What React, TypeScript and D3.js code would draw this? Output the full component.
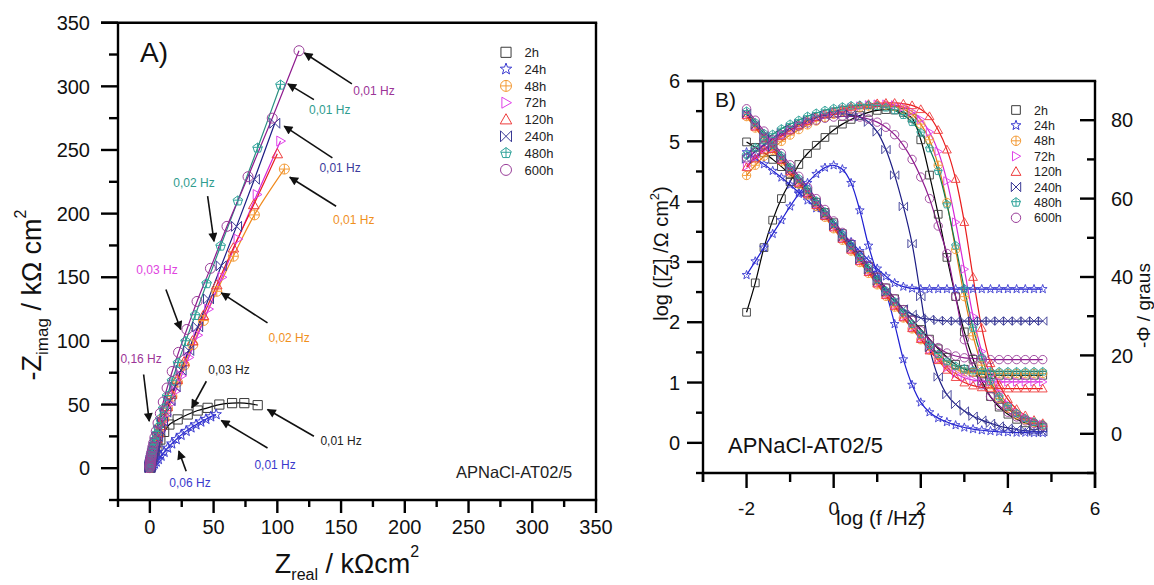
import React from "react";
import * as d3 from "d3";

// ---------------- DATA ----------------
const seriesNames = ["2h", "24h", "48h", "72h", "120h", "240h", "480h", "600h"];

// Nyquist (Zreal, -Zimag) in kOhm cm2, from 0.01 Hz towards high frequency
const nyq2h = [[84.6,49.5],[74.1,51.1],[64.5,51.1],[54.5,50.0],[45.3,47.4],[37.5,45.3],[29.7,42.2],[21.8,38.3],[15.3,34.3],[11.2,28.5],[8.2,22.5],[5.9,17],[4.1,12.5],[2.7,8.8],[1.7,5.8],[1.0,3.6],[0.5,2.0],[0.2,0.9],[0.05,0.3]];
const nyq24h = [[52,42.2],[47.8,40.5],[44,38.5],[40,36.4],[36.2,34.2],[32.3,31.8],[28.5,29.1],[24.5,26],[20.7,22.6],[17.2,19.2],[14,15.9],[11.2,12.6],[8.8,9.6],[6.7,7],[5,5],[3.6,3.4],[2.5,2.2],[1.6,1.3],[0.9,0.6],[0.4,0.2]];
const nyq48h = [[105.5,235],[82,199],[65.5,166.5],[52.5,139],[42,116],[33.7,97],[27,81],[21.6,67.6],[17.3,56.4],[13.8,47],[11,39.2],[8.8,32.6],[7,27.1],[5.6,22.5],[4.4,18.7],[3.5,15.5],[2.8,12.9],[2.2,10.7],[1.7,8.8],[1.3,7.3],[1,6],[0.75,4.9],[0.55,3.9],[0.4,3],[0.28,2.3],[0.18,1.6],[0.1,1],[0.05,0.4]];
const nyq72h = [[102.5,257],[84,215],[69,180],[56.5,150],[46,125],[37.5,104.5],[30.5,87],[24.8,72.5],[20.1,60.5],[16.2,50.5],[13,42],[10.4,35],[8.3,29.1],[6.6,24.2],[5.2,20.1],[4.1,16.7],[3.2,13.9],[2.5,11.5],[1.9,9.5],[1.5,7.9],[1.1,6.5],[0.85,5.3],[0.6,4.3],[0.45,3.4],[0.3,2.6],[0.2,1.8],[0.1,1.1],[0.05,0.5]];
const nyq120h = [[100,247],[81.5,207],[65.5,173],[52.5,144],[42,120],[33.5,100],[26.8,83.5],[21.4,69.6],[17.1,58],[13.6,48.3],[10.8,40.2],[8.6,33.5],[6.8,27.9],[5.4,23.2],[4.3,19.3],[3.4,16],[2.7,13.3],[2.1,11],[1.6,9.1],[1.25,7.5],[0.95,6.2],[0.7,5.1],[0.5,4.1],[0.35,3.2],[0.25,2.4],[0.15,1.7],[0.08,1],[0.04,0.4]];
const nyq240h = [[98,271],[82,227],[68,190],[56,159],[46,133],[37.5,111],[30.5,92.5],[24.5,77],[19.8,64],[15.8,53],[12.5,44],[9.9,36.5],[7.8,30],[6.1,24.8],[4.7,20.4],[3.6,16.8],[2.8,13.8],[2.1,11.3],[1.6,9.2],[1.2,7.5],[0.9,6.1],[0.65,4.9],[0.45,3.9],[0.3,3],[0.2,2.2],[0.12,1.5],[0.08,0.9],[0.05,0.4]];
const nyq480h = [[102.5,301],[84.5,251.5],[69,210],[55.5,174.5],[44.5,145],[35.5,120],[28,99.5],[22,82.5],[17.3,68.5],[13.5,56.5],[10.5,46.8],[8.2,38.7],[6.4,32],[5,26.5],[3.9,21.9],[3,18.1],[2.3,15],[1.8,12.4],[1.4,10.2],[1.1,8.4],[0.8,6.9],[0.6,5.6],[0.45,4.5],[0.3,3.5],[0.2,2.6],[0.1,1.7],[0.05,0.9],[0,0.3]];
const nyq600h = [[117,328],[96,275],[77,229],[60.5,190],[47.5,157],[37,131],[29,109],[22.5,91],[17.5,76],[13.5,63],[10.5,52],[8.2,43],[6.4,35.5],[5,29],[3.9,24],[3,19.8],[2.3,16.3],[1.8,13.4],[1.4,11],[1.1,9],[0.8,7.3],[0.6,5.9],[0.4,4.7],[0.3,3.6],[0.2,2.6],[0.1,1.5],[0,0.5]];

// Bode: log(f/Hz)
const logF = [-2.0,-1.8,-1.6,-1.4,-1.2,-1.0,-0.8,-0.6,-0.4,-0.2,0.0,0.2,0.4,0.6,0.8,1.0,1.2,1.4,1.6,1.8,2.0,2.2,2.4,2.6,2.8,3.0,3.2,3.4,3.6,3.8,4.0,4.2,4.4,4.6,4.8];

const logZ2h = [4.99,4.90,4.81,4.70,4.58,4.45,4.30,4.15,3.99,3.82,3.65,3.47,3.29,3.11,2.93,2.75,2.57,2.39,2.21,2.04,1.88,1.72,1.56,1.42,1.30,1.22,1.17,1.14,1.13,1.12,1.12,1.12,1.12,1.12,1.12];
const logZ24h = [4.82,4.72,4.62,4.51,4.40,4.28,4.15,4.02,3.89,3.75,3.61,3.47,3.33,3.18,3.03,2.89,2.76,2.65,2.59,2.56,2.55,2.55,2.55,2.55,2.55,2.55,2.55,2.55,2.55,2.55,2.55,2.55,2.55,2.55,2.55];
const logZ48h = [5.41,5.22,5.04,4.85,4.67,4.48,4.29,4.11,3.92,3.74,3.55,3.36,3.18,2.99,2.81,2.62,2.43,2.25,2.07,1.89,1.71,1.54,1.40,1.29,1.22,1.18,1.17,1.16,1.15,1.15,1.15,1.15,1.15,1.15,1.15];
const logZ72h = [5.44,5.25,5.07,4.88,4.70,4.51,4.32,4.14,3.95,3.77,3.58,3.39,3.21,3.02,2.84,2.65,2.46,2.28,2.09,1.91,1.74,1.55,1.39,1.25,1.15,1.08,1.04,1.02,1.01,1.01,1.01,1.01,1.01,1.01,1.01];
const logZ120h = [5.43,5.24,5.06,4.87,4.69,4.50,4.31,4.13,3.94,3.76,3.57,3.38,3.20,3.01,2.83,2.64,2.45,2.27,2.08,1.90,1.72,1.53,1.37,1.21,1.09,1.00,0.95,0.92,0.91,0.90,0.90,0.90,0.90,0.90,0.90];
const logZ240h = [5.46,5.27,5.09,4.90,4.72,4.53,4.34,4.16,3.97,3.79,3.60,3.41,3.23,3.04,2.87,2.68,2.50,2.35,2.22,2.13,2.07,2.05,2.03,2.02,2.02,2.02,2.02,2.02,2.02,2.02,2.02,2.02,2.02,2.02,2.02];
const logZ480h = [5.50,5.31,5.13,4.94,4.76,4.57,4.38,4.20,4.01,3.83,3.64,3.45,3.27,3.08,2.90,2.71,2.52,2.34,2.16,1.97,1.80,1.62,1.47,1.35,1.27,1.23,1.20,1.19,1.18,1.18,1.18,1.18,1.18,1.18,1.18];
const logZ600h = [5.54,5.35,5.17,4.98,4.80,4.61,4.42,4.24,4.05,3.87,3.68,3.49,3.31,3.12,2.94,2.75,2.57,2.39,2.21,2.03,1.86,1.71,1.58,1.49,1.44,1.41,1.40,1.39,1.38,1.38,1.38,1.38,1.38,1.38,1.38];

const phase2h = [31,38.5,47.5,54.5,60,64.3,68.7,71.5,73.6,75.6,77.5,79,80.2,81.2,82,82.5,82.7,82.6,82,80.5,75,66,56,45,35,26,19,13.5,9.5,6.8,5,3.7,2.8,2.1,1.6];
const phase24h = [40.5,44,47.5,51,54.5,58,61.2,64,66.3,67.9,68.5,67.5,64,57,48,41,36,28,19,12.5,8,5.5,4,3,2.2,1.6,1.2,0.9,0.7,0.5,0.4,0.3,0.3,0.2,0.2];
const phase48h = [65.9,68.5,70.8,72.8,74.6,76.2,77.6,78.8,79.8,80.7,81.5,82.2,82.8,83.3,83.6,83.8,83.8,83.5,82.8,81.5,79,75,68.5,59,47,35,25,17.5,12.5,9,6.5,4.8,3.6,2.8,2.2];
const phase72h = [68.3,70.6,72.6,74.4,76,77.4,78.6,79.7,80.6,81.4,82.1,82.7,83.2,83.6,83.9,84.1,84.1,83.9,83.3,82.2,80.2,77,72,64.5,54,42,30,21,15,10.5,7.5,5.5,4.1,3.1,2.4];
const phase120h = [68,70.2,72.3,74.2,75.9,77.4,78.7,79.8,80.8,81.6,82.3,82.9,83.4,83.8,84.1,84.3,84.4,84.4,84.2,83.8,82.8,81,77.5,72.5,65,54,40,27,18,12.5,8.8,6.3,4.7,3.5,2.7];
const phase240h = [70.1,72,73.8,75.4,76.8,78,79.1,80,80.7,81.2,81.5,81.6,81.4,80.8,79.5,77,72.5,66,58,48.5,35,22,14.5,10,7.5,5.8,4.5,3.5,2.7,2,1.5,1.1,0.8,0.6,0.5];
const phase480h = [71.2,73,74.8,76.4,77.8,79,80,81,81.8,82.5,83,83.4,83.7,83.8,83.8,83.6,83.2,82.5,81.3,79.5,76.8,72.8,67,58.5,48,37,27,19.5,13.5,9.5,7,5.2,3.9,3,2.3];
const phase600h = [70.4,72,73.5,75,76.3,77.5,78.5,79.3,80,80.5,80.8,81,81,80.8,80.3,79.5,78.2,76.3,73.6,70,65.5,60,53,46,35,24,17,12.5,9.5,7.2,5.5,4.3,3.3,2.6,2.0];

// Tick values / labels
const ticksA = [0, 50, 100, 150, 200, 250, 300, 350];
const ticksBx = [-2, 0, 2, 4, 6];
const ticksBxLabels = ["-2", "0", "2", "4", "6"];
const ticksBy = [0, 1, 2, 3, 4, 5, 6];
const ticksBr = [0, 20, 40, 60, 80];

// Frequency annotations (panel A): text, colour, text anchor point, arrow from, arrow to (data coords)
const annText = ["0,01 Hz","0,01 Hz","0,01 Hz","0,01 Hz","0,02 Hz","0,03 Hz","0,02 Hz","0,16 Hz","0,03 Hz","0,01 Hz","0,01 Hz","0,06 Hz"];
const annColor = ["#9b3497","#2f9c8e","#3b3b9c","#f0901e","#2f9c8e","#e044e0","#f0901e","#9b3497","#222222","#222222","#3a3acc","#3a3acc"];
const annTextPos = [[159.6,293],[124.9,278.5],[133,232.5],[143.7,191.7],[18.4,220.7],[-10.6,152.4],[93,99],[-23.1,82.5],[45.9,73.8],[133.8,18.1],[82,-0.8],[15.3,-14.9]];
const annArrowFrom = [[158.5,301.9],[128.7,289.6],[143.2,243.8],[146.1,205.8],[45.3,213.7],[12.6,140.4],[92.3,114.1],[-4.9,73.6],[44.3,68.3],[128.7,25.1],[92.3,15.9],[28.5,-2.4]];
const annArrowTo = [[121.2,326.2],[108.3,301.9],[105.4,268.7],[109.8,228.6],[50.3,178.3],[24.2,109],[56.1,137.7],[-0.5,36.9],[32.9,47.4],[92.3,46.1],[56.1,37.5],[22.7,13.4]];

// ---------------- STYLE ----------------
const markerColors = ["#3a3a3a", "#3a3ad0", "#f39a35", "#e040e8", "#ee3b3b", "#3a3a95", "#2fa39a", "#9a3f9a"];
const lineColorsA = ["#000000", "#1e1ed2", "#f08a1e", "#d726d7", "#e81c1c", "#1c1c84", "#2a8f80", "#8e1a8e"];
const lineColorsB = ["#000000", "#1e1ed2", "#e07a10", "#d726d7", "#e81c1c", "#1c1c84", "#0b7a52", "#8e1a8e"];
const shapes = ["square", "star", "circlePlus", "triRight", "triUp", "bowtie", "pentaPlus", "circle"];
const FONT = "'Liberation Sans', Arial, Helvetica, sans-serif";

const nyqAll = [nyq2h, nyq24h, nyq48h, nyq72h, nyq120h, nyq240h, nyq480h, nyq600h];
const logZAll = [logZ2h, logZ24h, logZ48h, logZ72h, logZ120h, logZ240h, logZ480h, logZ600h];
const phaseAll = [phase2h, phase24h, phase48h, phase72h, phase120h, phase240h, phase480h, phase600h];

function circ(r: number) {
  return `M${r},0A${r},${r} 0 1,1 ${-r},0A${r},${r} 0 1,1 ${r},0Z`;
}

function shapePath(shape: string, r: number): string {
  switch (shape) {
    case "square": {
      const s = r * 0.92;
      return `M${-s},${-s}H${s}V${s}H${-s}Z`;
    }
    case "star": {
      let p = "";
      for (let i = 0; i < 10; i++) {
        const a = -Math.PI / 2 + (i * Math.PI) / 5;
        const rr = i % 2 === 0 ? r * 1.1 : r * 0.45;
        p += (i ? "L" : "M") + (rr * Math.cos(a)).toFixed(2) + "," + (rr * Math.sin(a)).toFixed(2);
      }
      return p + "Z";
    }
    case "circle":
      return circ(r);
    case "circlePlus":
      return circ(r) + `M${-r},0H${r}M0,${-r}V${r}`;
    case "triRight":
      return `M${-r * 0.75},${-r}L${r},0L${-r * 0.75},${r}Z`;
    case "triUp":
      return `M0,${-r * 1.05}L${r * 1.05},${r * 0.8}L${-r * 1.05},${r * 0.8}Z`;
    case "bowtie":
      return `M${-r},${-r}L${r},${r}L${r},${-r}L${-r},${r}Z`;
    case "pentaPlus": {
      let p = "";
      for (let i = 0; i < 5; i++) {
        const a = -Math.PI / 2 + (i * 2 * Math.PI) / 5;
        p += (i ? "L" : "M") + (r * Math.cos(a)).toFixed(2) + "," + (r * Math.sin(a)).toFixed(2);
      }
      return p + `ZM0,${-r}V${r * 0.81}M${-r * 0.95},${-r * 0.15}H${r * 0.95}`;
    }
  }
  return circ(r);
}

export default function App() {
  const xA = d3.scaleLinear().domain([-25, 350]).range([118, 596]);
  const yA = d3.scaleLinear().domain([-25, 350]).range([500, 22.7]);
  const xB = d3.scaleLinear().domain([-3, 6]).range([703, 1095]);
  const yBL = d3.scaleLinear().domain([-0.5, 6]).range([473, 81]);
  const yBR = d3.scaleLinear().domain([-10, 90]).range([473, 81]);

  const lineA = d3
    .line<number[]>()
    .x((d) => xA(d[0]))
    .y((d) => yA(d[1]))
    .curve(d3.curveCatmullRom.alpha(0.5));
  const lineBL = d3
    .line<number>()
    .x((_, i) => xB(logF[i]))
    .y((d) => yBL(d))
    .curve(d3.curveCatmullRom.alpha(0.5));
  const lineBR = d3
    .line<number>()
    .x((_, i) => xB(logF[i]))
    .y((d) => yBR(d))
    .curve(d3.curveCatmullRom.alpha(0.5));

  const aw = 2.4;
  const minorA = d3.range(-25, 351, 50);
  const minorBx = [-3, -1, 1, 3, 5];
  const minorBy = d3.range(-0.5, 6, 1);
  const minorBr = [-10, 10, 30, 50, 70];

  const A0x = xA(-25), A1x = xA(350), A0y = yA(-25), A1y = yA(350);
  const B0x = xB(-3), B1x = xB(6), B0y = yBL(-0.5), B1y = yBL(6);

  return (
    <svg
      width={1154}
      height={585}
      viewBox="0 0 1154 585"
      style={{ position: "absolute", left: 0, top: 0, background: "#fff" }}
      fontFamily={FONT}
    >
      <defs>
        <marker id="ah" viewBox="0 0 10 10" refX="9" refY="5" markerWidth="11" markerHeight="9" markerUnits="userSpaceOnUse" orient="auto">
          <path d="M0,0L10,5L0,10Z" fill="#111" />
        </marker>
      </defs>
      <rect x={0} y={0} width={1154} height={585} fill="#fff" />

      {/* ================= PANEL A ================= */}
      <g>
        {nyqAll.map((s, k) => (
          <path key={"la" + k} d={lineA(s) || ""} fill="none" stroke={lineColorsA[k]} strokeWidth={1.2} />
        ))}
        {nyqAll.map((s, k) => (
          <g key={"ma" + k}>
            {s.map((d, i) => (
              <path
                key={i}
                d={shapePath(shapes[k], 5)}
                transform={`translate(${xA(d[0])},${yA(d[1])})`}
                fill="none"
                stroke={markerColors[k]}
                strokeWidth={1}
              />
            ))}
          </g>
        ))}

        {/* frame */}
        <line x1={A0x} y1={A1y} x2={A0x} y2={A0y} stroke="#000" strokeWidth={aw} />
        <line x1={A0x - 1.2} y1={A0y} x2={A1x + 1.2} y2={A0y} stroke="#000" strokeWidth={aw} />
        <line x1={A0x - 17} y1={A1y} x2={A1x + 1.2} y2={A1y} stroke="#000" strokeWidth={aw} />
        <line x1={A1x} y1={A1y} x2={A1x} y2={A0y} stroke="#000" strokeWidth={aw} />
        {ticksA.map((v) => (
          <g key={"ta" + v}>
            <line x1={A0x - 17} x2={A0x} y1={yA(v)} y2={yA(v)} stroke="#000" strokeWidth={aw} />
            <text x={A0x - 28} y={yA(v)} dy="0.36em" textAnchor="end" fontSize={20} fill="#111">{v}</text>
            <line x1={xA(v)} x2={xA(v)} y1={A0y} y2={A0y + 13} stroke="#000" strokeWidth={aw} />
            <text x={xA(v)} y={A0y + 34} textAnchor="middle" fontSize={20} fill="#111">{v}</text>
          </g>
        ))}
        {minorA.map((v) => (
          <g key={"mia" + v}>
            <line x1={A0x - 9} x2={A0x} y1={yA(v)} y2={yA(v)} stroke="#000" strokeWidth={aw} />
            <line x1={xA(v)} x2={xA(v)} y1={A0y} y2={A0y + 7} stroke="#000" strokeWidth={aw} />
          </g>
        ))}

        {/* axis titles */}
        <text transform="translate(41,295) rotate(-90)" textAnchor="middle" fontSize={27} fill="#111">
          -Z<tspan dy={7} fontSize={17}>imag</tspan>
          <tspan dy={-7}> / kΩ cm</tspan>
          <tspan dy={-15} fontSize={16}>2</tspan>
        </text>
        <text x={347} y={573} textAnchor="middle" fontSize={27} fill="#111">
          Z<tspan dy={7} fontSize={16}>real</tspan>
          <tspan dy={-7}> / kΩcm</tspan>
          <tspan dy={-16} fontSize={16}>2</tspan>
        </text>
        <text x={140} y={62} fontSize={28} fill="#111">A)</text>
        <text x={456} y={478} fontSize={16.5} fill="#222">APNaCl-AT02/5</text>

        {/* annotations */}
        {annText.map((t, i) => (
          <g key={"an" + i}>
            <line
              x1={xA(annArrowFrom[i][0])}
              y1={yA(annArrowFrom[i][1])}
              x2={xA(annArrowTo[i][0])}
              y2={yA(annArrowTo[i][1])}
              stroke="#111"
              strokeWidth={1.6}
              markerEnd="url(#ah)"
            />
            <text x={xA(annTextPos[i][0])} y={yA(annTextPos[i][1])} fontSize={12} fill={annColor[i]}>{t}</text>
          </g>
        ))}

        {/* legend */}
        {seriesNames.map((n, i) => (
          <g key={"lga" + i} transform={`translate(506,${52.3 + i * 16.8})`}>
            <path d={shapePath(shapes[i], 5.5)} fill="none" stroke={markerColors[i]} strokeWidth={1} />
            <text x={18.6} dy="0.36em" fontSize={13} fill="#222">{n}</text>
          </g>
        ))}
      </g>

      {/* ================= PANEL B ================= */}
      <g>
        {logZAll.map((s, k) => (
          <g key={"lb" + k}>
            <path d={lineBL(s) || ""} fill="none" stroke={lineColorsB[k]} strokeWidth={1.2} />
            <path d={lineBR(phaseAll[k]) || ""} fill="none" stroke={lineColorsB[k]} strokeWidth={1.2} />
          </g>
        ))}
        {logZAll.map((s, k) => (
          <g key={"mb" + k}>
            {s.map((v, i) => (
              <path
                key={"z" + i}
                d={shapePath(shapes[k], 4.2)}
                transform={`translate(${xB(logF[i])},${yBL(v)})`}
                fill="none"
                stroke={markerColors[k]}
                strokeWidth={0.9}
              />
            ))}
            {phaseAll[k].map((v, i) => (
              <path
                key={"p" + i}
                d={shapePath(shapes[k], 4.2)}
                transform={`translate(${xB(logF[i])},${yBR(v)})`}
                fill="none"
                stroke={markerColors[k]}
                strokeWidth={0.9}
              />
            ))}
          </g>
        ))}

        {/* frame */}
        <line x1={B0x} y1={B1y} x2={B0x} y2={B0y + 9} stroke="#000" strokeWidth={aw} />
        <line x1={B0x - 1.2} y1={B0y} x2={B1x + 1.2} y2={B0y} stroke="#000" strokeWidth={aw} />
        <line x1={B0x - 16} y1={B1y} x2={B1x + 1.2} y2={B1y} stroke="#000" strokeWidth={aw} />
        <line x1={B1x} y1={B1y} x2={B1x} y2={B0y + 15} stroke="#000" strokeWidth={aw} />
        {ticksBy.map((v) => (
          <g key={"tby" + v}>
            <line x1={B0x - 16} x2={B0x} y1={yBL(v)} y2={yBL(v)} stroke="#000" strokeWidth={aw} />
            <text x={B0x - 23} y={yBL(v)} dy="0.36em" textAnchor="end" fontSize={20} fill="#111">{v}</text>
          </g>
        ))}
        {minorBy.map((v) => (
          <line key={"mby" + v} x1={B0x - 7} x2={B0x} y1={yBL(v)} y2={yBL(v)} stroke="#000" strokeWidth={aw} />
        ))}
        {ticksBx.map((v, i) => (
          <g key={"tbx" + v}>
            <line x1={xB(v)} x2={xB(v)} y1={B0y} y2={B0y + 15} stroke="#000" strokeWidth={aw} />
            <text x={xB(v)} y={B0y + 42} textAnchor="middle" fontSize={19} fill="#111">{ticksBxLabels[i]}</text>
          </g>
        ))}
        {minorBx.map((v) => (
          <line key={"mbx" + v} x1={xB(v)} x2={xB(v)} y1={B0y} y2={B0y + 9} stroke="#000" strokeWidth={aw} />
        ))}
        {ticksBr.map((v) => (
          <g key={"tbr" + v}>
            <line x1={B1x - 15} x2={B1x} y1={yBR(v)} y2={yBR(v)} stroke="#000" strokeWidth={aw} />
            <text x={B1x + 16} y={yBR(v)} dy="0.36em" textAnchor="start" fontSize={20} fill="#111">{v}</text>
          </g>
        ))}
        {minorBr.map((v) => (
          <line key={"mbr" + v} x1={B1x - 8} x2={B1x} y1={yBR(v)} y2={yBR(v)} stroke="#000" strokeWidth={aw} />
        ))}

        {/* titles */}
        <text transform="translate(668,253.5) rotate(-90)" textAnchor="middle" fontSize={20} fill="#111">
          log ([Z] /Ω cm<tspan dy={-9} fontSize={13}>2</tspan>
          <tspan dy={9}>)</tspan>
        </text>
        <text transform="translate(1150,305.5) rotate(-90)" textAnchor="middle" fontSize={19} fill="#111">
          -Φ / graus
        </text>
        <text x={836} y={525} fontSize={20.5} fill="#111">log (f /Hz)</text>
        <text x={715} y={107} fontSize={21} fill="#111">B)</text>
        <text x={728} y={453} fontSize={22} fill="#111">APNaCl-AT02/5</text>

        {/* legend */}
        {seriesNames.map((n, i) => (
          <g key={"lgb" + i} transform={`translate(1016,${110 + i * 15.4})`}>
            <path d={shapePath(shapes[i], 4.7)} fill="none" stroke={markerColors[i]} strokeWidth={1} />
            <text x={18} dy="0.36em" fontSize={12.5} fill="#222">{n}</text>
          </g>
        ))}
      </g>
    </svg>
  );
}
